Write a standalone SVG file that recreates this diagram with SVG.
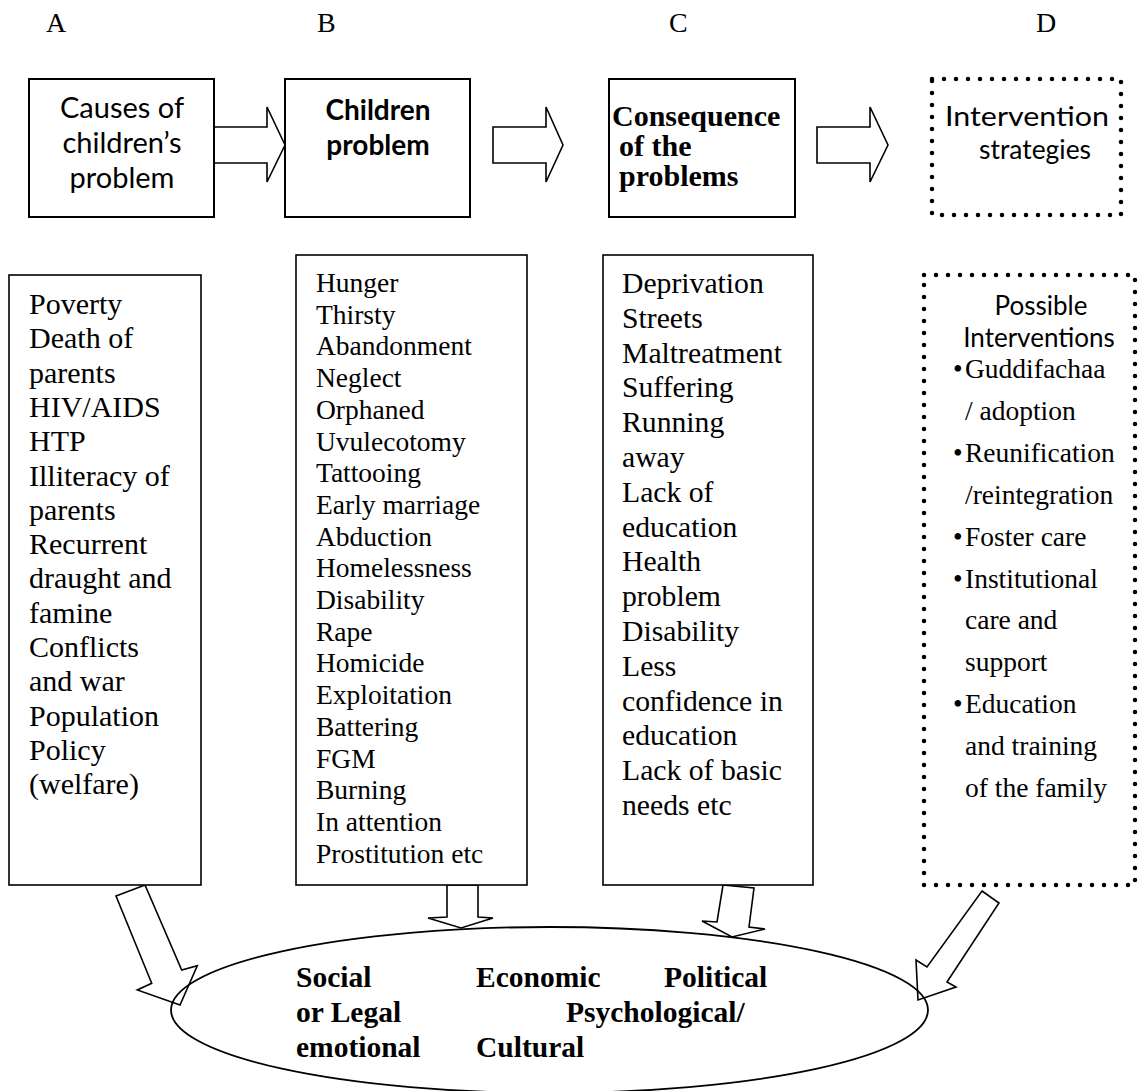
<svg xmlns="http://www.w3.org/2000/svg" width="1139" height="1091" viewBox="0 0 1139 1091">
<style>
.bg{fill:#fff}
.box{fill:#fff;stroke:#000;stroke-width:2}
.box2{fill:#fff;stroke:#000;stroke-width:1.6}
.dot{fill:none;stroke:#000;stroke-width:4.5;stroke-linecap:round;stroke-dasharray:0 12}
.arr{fill:#fff;stroke:#000;stroke-width:1.6;stroke-linejoin:miter}
.ell{fill:none;stroke:#000;stroke-width:1.8}
.lbl{font-family:"Liberation Serif","Times New Roman",serif;font-size:28px;fill:#000}
.sans{font-family:Lato,"Noto Sans",sans-serif;fill:#000;text-anchor:middle}
.serb{font-family:"Liberation Serif","Times New Roman",serif;font-weight:bold;fill:#000}
.list{font-family:"Liberation Serif","Times New Roman",serif;fill:#000}
</style>
<rect class="bg" x="0" y="0" width="1139" height="1091"/>

<g id="column-labels">
<text class="lbl" x="46" y="32">A</text>
<text class="lbl" x="317" y="32">B</text>
<text class="lbl" x="669" y="32">C</text>
<text class="lbl" x="1036" y="32">D</text>
</g>

<g id="connectors">
<polygon class="arr" points="214,127 267,127 267,107 285,145 267,182 267,163 214,163"/>
<polygon class="arr" points="493,127 546,127 546,107 563,145 546,182 546,163 493,163"/>
<polygon class="arr" points="817,127 870,127 870,107 888,145 870,182 870,163 817,163"/>
<polygon class="arr" points="116,896 145,885 181.7,970 197.3,965.7 180,1005 137.3,990 151.7,983.3"/>
<polygon class="arr" points="447,885 478,885 478,917 493,918 461,928 428,918 447,917"/>
<polygon class="arr" points="723,885 754,888 749,927 765,929 732,937 702,921 717,922"/>
<polygon class="arr" points="982,891 999,903 947,982 956,987 918,1000 916,960 927,967"/>
</g>

<g id="node-causes">
<rect class="box" x="29" y="79" width="185" height="138"/>
<text class="sans" font-size="29" x="122" y="118">Causes of</text>
<text class="sans" font-size="29" x="122" y="153">children’s</text>
<text class="sans" font-size="29" x="122" y="188">problem</text>
</g>

<g id="node-children-problem">
<rect class="box" x="285" y="79" width="185" height="138"/>
<text class="sans" font-size="28" font-weight="bold" x="378" y="120">Children</text>
<text class="sans" font-size="28" font-weight="bold" x="378" y="155">problem</text>
</g>

<g id="node-consequence">
<rect class="box" x="609" y="79" width="186" height="138"/>
<text class="serb" font-size="30" x="612" y="126">Consequence</text>
<text class="serb" font-size="30" x="619" y="156">of the</text>
<text class="serb" font-size="30" x="619" y="186">problems</text>
</g>

<g id="node-intervention">
<path class="dot" d="M932,79 H1121 V215 H932 Z"/>
<text class="sans" font-size="27" x="1027" y="126" textLength="164" lengthAdjust="spacingAndGlyphs">Intervention</text>
<text class="sans" font-size="27" x="1035" y="159" textLength="112" lengthAdjust="spacingAndGlyphs">strategies</text>
</g>

<g id="node-causes-list">
<rect class="box2" x="9" y="275" width="192" height="610"/>
<g class="list" font-size="30">
<text x="29" y="314">Poverty</text>
<text x="29" y="348.3">Death of</text>
<text x="29" y="382.6">parents</text>
<text x="29" y="416.9">HIV/AIDS</text>
<text x="29" y="451.2">HTP</text>
<text x="29" y="485.5">Illiteracy of</text>
<text x="29" y="519.8">parents</text>
<text x="29" y="554.1">Recurrent</text>
<text x="29" y="588.4">draught and</text>
<text x="29" y="622.7">famine</text>
<text x="29" y="657">Conflicts</text>
<text x="29" y="691.3">and war</text>
<text x="29" y="725.6">Population</text>
<text x="29" y="759.9">Policy</text>
<text x="29" y="794.2">(welfare)</text>
</g>
</g>

<g id="node-problem-list">
<rect class="box2" x="296" y="255" width="231" height="630"/>
<g class="list" font-size="27.5">
<text x="316" y="292">Hunger</text>
<text x="316" y="323.7">Thirsty</text>
<text x="316" y="355.4">Abandonment</text>
<text x="316" y="387.1">Neglect</text>
<text x="316" y="418.8">Orphaned</text>
<text x="316" y="450.5">Uvulecotomy</text>
<text x="316" y="482.2">Tattooing</text>
<text x="316" y="513.9">Early marriage</text>
<text x="316" y="545.6">Abduction</text>
<text x="316" y="577.3">Homelessness</text>
<text x="316" y="609">Disability</text>
<text x="316" y="640.7">Rape</text>
<text x="316" y="672.4">Homicide</text>
<text x="316" y="704.1">Exploitation</text>
<text x="316" y="735.8">Battering</text>
<text x="316" y="767.5">FGM</text>
<text x="316" y="799.2">Burning</text>
<text x="316" y="830.9">In attention</text>
<text x="316" y="862.6">Prostitution etc</text>
</g>
</g>

<g id="node-consequence-list">
<rect class="box2" x="603" y="255" width="210" height="630"/>
<g class="list" font-size="29.7">
<text x="622" y="293">Deprivation</text>
<text x="622" y="327.8">Streets</text>
<text x="622" y="362.6">Maltreatment</text>
<text x="622" y="397.4">Suffering</text>
<text x="622" y="432.2">Running</text>
<text x="622" y="467">away</text>
<text x="622" y="501.8">Lack of</text>
<text x="622" y="536.6">education</text>
<text x="622" y="571.4">Health</text>
<text x="622" y="606.2">problem</text>
<text x="622" y="641">Disability</text>
<text x="622" y="675.8">Less</text>
<text x="622" y="710.6">confidence in</text>
<text x="622" y="745.4">education</text>
<text x="622" y="780.2">Lack of basic</text>
<text x="622" y="815">needs etc</text>
</g>
</g>

<g id="node-possible-interventions">
<path class="dot" d="M924,275 H1135 V885 H924 Z"/>
<text class="sans" font-size="26" x="1041" y="315">Possible</text>
<text class="sans" font-size="26" x="1039" y="347">Interventions</text>
<g class="list" font-size="27.5">
<text x="953" y="378">•</text><text x="965" y="378">Guddifachaa</text>
<text x="965" y="419.9">/ adoption</text>
<text x="953" y="461.8">•</text><text x="965" y="461.8">Reunification</text>
<text x="965" y="503.7">/reintegration</text>
<text x="953" y="545.6">•</text><text x="965" y="545.6">Foster care</text>
<text x="953" y="587.5">•</text><text x="965" y="587.5">Institutional</text>
<text x="965" y="629.4">care and</text>
<text x="965" y="671.3">support</text>
<text x="953" y="713.2">•</text><text x="965" y="713.2">Education</text>
<text x="965" y="755.1">and training</text>
<text x="965" y="797">of the family</text>
</g>
</g>

<g id="node-dimensions">
<ellipse class="ell" cx="549.5" cy="1010" rx="378.5" ry="83"/>
<g class="serb" font-size="29.5">
<text x="296" y="987">Social</text>
<text x="476" y="987">Economic</text>
<text x="664" y="987">Political</text>
<text x="296" y="1022">or Legal</text>
<text x="566" y="1022">Psychological/</text>
<text x="296" y="1057">emotional</text>
<text x="476" y="1057">Cultural</text>
</g>
</g>
</svg>
